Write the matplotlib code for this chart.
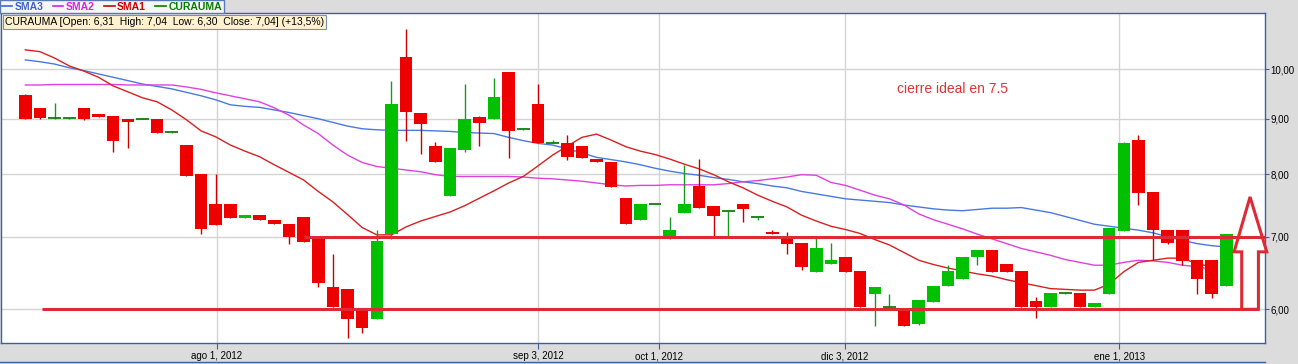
import numpy as np
import matplotlib
matplotlib.use("Agg")
import matplotlib.pyplot as plt
from matplotlib.patches import Polygon
from matplotlib.lines import Line2D
from matplotlib.ticker import NullLocator

plt.rcParams['font.family'] = ['Liberation Sans', 'DejaVu Sans']

# daily candles for CURAUMA
opens = [9.47, 9.21, 9.00, 9.00, 9.21, 9.09, 9.06, 9.00, 8.99, 9.00,
         8.74, 8.51, 8.00, 7.51, 7.51, 7.29, 7.34, 7.25, 7.20, 7.30,
         6.99, 6.29, 6.27, 6.00, 5.88, 7.04, 10.27, 9.11, 8.49, 7.64,
         8.42, 9.03, 9.00, 9.94, 8.79, 9.29, 8.54, 8.55, 8.49, 8.26,
         8.21, 7.60, 7.26, 7.50, 7.02, 7.37, 7.80, 7.48, 7.38, 7.50,
         7.29, 7.08, 7.00, 6.91, 6.50, 6.61, 6.71, 6.51, 6.20, 6.02,
         6.00, 5.81, 6.10, 6.30, 6.40, 6.70, 6.81, 6.61, 6.51, 6.11,
         6.03, 6.20, 6.21, 6.03, 6.20, 7.09, 8.60, 7.70, 7.10, 7.10,
         6.66, 6.66, 6.31]
highs = [9.48, 9.21, 9.31, 9.02, 9.21, 9.09, 9.06, 9.00, 9.00, 9.00,
         8.75, 8.51, 8.00, 8.00, 7.51, 7.34, 7.34, 7.25, 7.20, 7.30,
         6.99, 6.75, 6.27, 6.00, 7.10, 9.75, 10.90, 9.11, 8.56, 8.46,
         9.69, 9.06, 9.82, 9.94, 8.80, 9.69, 8.60, 8.70, 8.49, 8.26,
         8.21, 7.60, 7.51, 7.51, 7.30, 8.16, 8.26, 7.48, 7.39, 7.50,
         7.30, 7.10, 7.07, 6.91, 6.99, 6.91, 6.71, 6.51, 6.29, 6.20,
         6.00, 6.12, 6.30, 6.59, 6.71, 6.81, 6.81, 6.61, 6.51, 6.16,
         6.21, 6.21, 6.21, 6.08, 7.13, 8.57, 8.70, 7.70, 7.10, 7.10,
         6.66, 6.66, 7.04]
lows = [9.00, 8.99, 9.00, 9.00, 8.98, 9.04, 8.39, 8.45, 8.99, 8.74,
        8.74, 7.97, 7.05, 7.18, 7.29, 7.29, 7.25, 7.20, 6.89, 6.93,
        6.29, 6.03, 5.65, 5.70, 5.88, 6.97, 8.59, 8.35, 8.20, 7.64,
        8.39, 8.50, 9.00, 8.28, 8.79, 8.54, 8.54, 8.25, 8.28, 8.20,
        7.79, 7.20, 7.26, 7.50, 6.97, 7.37, 7.45, 7.02, 7.02, 7.23,
        7.25, 7.04, 6.75, 6.53, 6.50, 6.61, 6.50, 6.03, 5.79, 6.02,
        5.79, 5.80, 6.10, 6.30, 6.40, 6.59, 6.50, 6.49, 6.03, 5.89,
        6.03, 6.20, 6.03, 6.03, 6.20, 7.09, 7.49, 6.66, 6.89, 6.59,
        6.20, 6.15, 6.30]
closes = [9.00, 9.02, 9.01, 9.01, 9.00, 9.04, 8.59, 8.93, 9.00, 8.74,
          8.75, 7.97, 7.12, 7.18, 7.29, 7.34, 7.25, 7.20, 7.00, 6.93,
          6.34, 6.03, 5.88, 5.77, 6.94, 9.29, 9.12, 8.90, 8.20, 8.46,
          9.00, 8.92, 9.43, 8.76, 8.80, 8.54, 8.55, 8.30, 8.28, 8.20,
          7.79, 7.20, 7.51, 7.51, 7.10, 7.51, 7.45, 7.32, 7.39, 7.43,
          7.30, 7.04, 6.89, 6.57, 6.84, 6.66, 6.50, 6.03, 6.29, 6.03,
          5.79, 6.12, 6.30, 6.51, 6.71, 6.81, 6.50, 6.49, 6.03, 6.03,
          6.21, 6.21, 6.03, 6.08, 7.13, 8.55, 7.69, 7.10, 6.91, 6.65,
          6.40, 6.20, 7.04]

sma1 = [10.42, 10.38, 10.24, 10.07, 9.96, 9.83, 9.65, 9.53, 9.41, 9.33,
        9.17, 8.98, 8.77, 8.66, 8.51, 8.40, 8.30, 8.16, 8.03, 7.90,
        7.71, 7.54, 7.34, 7.14, 7.03, 7.03, 7.15, 7.24, 7.31, 7.38,
        7.48, 7.60, 7.72, 7.85, 7.96, 8.14, 8.33, 8.49, 8.65, 8.71,
        8.60, 8.48, 8.40, 8.34, 8.26, 8.17, 8.09, 7.99, 7.87, 7.77,
        7.65, 7.55, 7.46, 7.33, 7.24, 7.16, 7.11, 7.05, 6.96, 6.88,
        6.77, 6.66, 6.60, 6.55, 6.51, 6.47, 6.44, 6.39, 6.35, 6.31,
        6.27, 6.26, 6.25, 6.25, 6.33, 6.50, 6.63, 6.66, 6.69, 6.69,
        6.61, 6.57]
sma2 = [9.67, 9.67, 9.68, 9.68, 9.68, 9.68, 9.68, 9.67, 9.67, 9.67,
        9.67, 9.63, 9.58, 9.51, 9.45, 9.39, 9.33, 9.21, 9.07, 8.88,
        8.72, 8.51, 8.33, 8.20, 8.13, 8.10, 8.07, 8.04, 7.99, 7.96,
        7.96, 7.96, 7.96, 7.96, 7.95, 7.93, 7.92, 7.90, 7.88, 7.85,
        7.82, 7.80, 7.81, 7.81, 7.82, 7.82, 7.82, 7.82, 7.84, 7.87,
        7.89, 7.92, 7.95, 7.99, 7.98, 7.86, 7.81, 7.73, 7.65, 7.59,
        7.49, 7.35, 7.26, 7.19, 7.12, 7.04, 6.97, 6.90, 6.83, 6.78,
        6.73, 6.67, 6.63, 6.59, 6.59, 6.63, 6.66, 6.65, 6.63, 6.59,
        6.57, 6.53]
sma3 = [10.20, 10.16, 10.11, 10.03, 9.97, 9.90, 9.83, 9.76, 9.69, 9.64,
        9.59, 9.52, 9.45, 9.37, 9.27, 9.24, 9.22, 9.17, 9.12, 9.06,
        9.00, 8.93, 8.86, 8.81, 8.79, 8.78, 8.78, 8.78, 8.77, 8.76,
        8.74, 8.73, 8.72, 8.65, 8.59, 8.54, 8.51, 8.44, 8.37, 8.29,
        8.25, 8.21, 8.16, 8.10, 8.05, 8.01, 7.98, 7.94, 7.91, 7.87,
        7.84, 7.80, 7.77, 7.71, 7.67, 7.63, 7.59, 7.57, 7.55, 7.53,
        7.49, 7.46, 7.43, 7.41, 7.40, 7.42, 7.44, 7.44, 7.45, 7.41,
        7.37, 7.31, 7.25, 7.19, 7.16, 7.13, 7.10, 7.06, 7.00, 6.95,
        6.90, 6.87, 6.85]

date_pos = [13.07, 35.03, 43.29, 55.97, 74.7]
date_labels = ["ago 1, 2012", "sep 3, 2012", "oct 1, 2012", "dic 3, 2012", "ene 1, 2013"]
price_ticks = [6, 7, 8, 9, 10]

# hand drawn marks on the chart
support, resistance = 6.0, 7.0
arrow_x = [83.05, 83.05, 82.53, 83.62, 84.76, 84.19, 84.19]
arrow_y = [6.0, 6.78, 6.78, 7.62, 6.78, 6.78, 6.0]
note = "cierre ideal en 7.5"

blue = '#3c5ea8'
red_mark = '#dd2a35'

fig = plt.figure(figsize=(12.98, 3.64), dpi=100, facecolor='#dcdcdc')
ax = fig.add_axes([1/1298, 21/364, 1264/1298, 330/364])
ax.set_facecolor('white')
ax.set_yscale('log')
ax.set_xlim(-1.66, 84.64)
ax.set_ylim(5.585, 11.27)

# moving averages
ax.plot(range(len(sma3)), sma3, color='#4a78e0', lw=1, zorder=2)
ax.plot(range(len(sma2)), sma2, color='#e040e0', lw=1, zorder=2)
ax.plot(range(len(sma1)), sma1, color='#d82020', lw=1, zorder=2)

# candles
o = np.array(opens); h = np.array(highs); l = np.array(lows); c = np.array(closes)
x = np.arange(len(o))
up = c > o
doji = np.abs(c - o) < 0.015
ax.vlines(x[up], l[up], h[up], color='#1a9a1a', lw=1, zorder=3)
ax.vlines(x[~up], l[~up], h[~up], color='#c80000', lw=1, zorder=3)
gb = up & ~doji
rb = ~up & ~doji
ax.bar(x[gb], c[gb] - o[gb], bottom=o[gb], width=0.86, color='#00c000', zorder=4)
ax.bar(x[rb], o[rb] - c[rb], bottom=c[rb], width=0.86, color='#ee0000', zorder=4)
ax.hlines(c[doji], x[doji] - 0.43, x[doji] + 0.43, color='#0e7e0e', lw=1.3, zorder=4)

# support / resistance and arrow
ax.hlines(support, 1.14, 84.19, color=red_mark, lw=2.2, zorder=5)
ax.hlines(resistance, 19.03, 84.64, color=red_mark, lw=2.2, zorder=5, clip_on=False)
ax.add_patch(Polygon(list(zip(arrow_x, arrow_y)), closed=True, fill=False,
                     edgecolor=red_mark, lw=2.2, zorder=5, clip_on=False))
ax.text(59.5, 9.58, note, color='#e03434', fontsize=10, ha='left', va='center')

# axes look
ax.yaxis.tick_right()
ax.set_yticks(price_ticks)
ax.set_yticklabels([f"{t:.2f}".replace('.', ',') for t in price_ticks])
ax.yaxis.set_minor_locator(NullLocator())
ax.set_xticks(date_pos)
ax.set_xticklabels(date_labels)
ax.tick_params(axis='y', direction='out', length=3, color=blue, labelsize=7, pad=1)
ax.tick_params(axis='x', direction='out', length=4, color=blue, labelsize=7, pad=2)
ax.grid(True, color='#d4d4d4', lw=1)
ax.set_axisbelow(True)
for s in ax.spines.values():
    s.set_color(blue)
    s.set_linewidth(1)

# legend row
handles = [Line2D([], [], color=col, lw=1.2) for col in ['#3c64d2', '#e020e0', '#d00000', '#008000']]
leg = fig.legend(handles, ['SMA3', 'SMA2', 'SMA1', 'CURAUMA'], loc='upper left',
                 bbox_to_anchor=(0, 1), ncol=4, frameon=True, fancybox=False,
                 prop={'size': 7.5, 'weight': 'bold'}, handlelength=1.0,
                 handletextpad=0.25, columnspacing=0.9, borderpad=0.15,
                 borderaxespad=0, labelcolor='linecolor', framealpha=1)
leg.get_frame().set_facecolor('#f6f6f6')
leg.get_frame().set_edgecolor('#5a78b4')

# last candle info box
fmt = lambda v: f"{v:.2f}".replace('.', ',')
pct = (closes[-1] / closes[-2] - 1) * 100
info = (f"CURAUMA [Open: {fmt(opens[-1])}  High: {fmt(highs[-1])}  "
        f"Low: {fmt(lows[-1])}  Close: {fmt(closes[-1])}] (+{pct:.1f}%)".replace('.', ','))
ax.annotate(info, xy=(0, 1), xycoords='axes fraction', xytext=(4, -4),
            textcoords='offset pixels', ha='left', va='top', fontsize=7.5, zorder=6,
            bbox=dict(boxstyle='square,pad=0.2', fc='#fff2cc', ec='#7a8fbf', lw=0.8))

fig.add_artist(Line2D([0, 1265/1298], [2/364, 2/364], color=blue, lw=1))

fig.savefig('out.png', dpi=100, facecolor=fig.get_facecolor())
